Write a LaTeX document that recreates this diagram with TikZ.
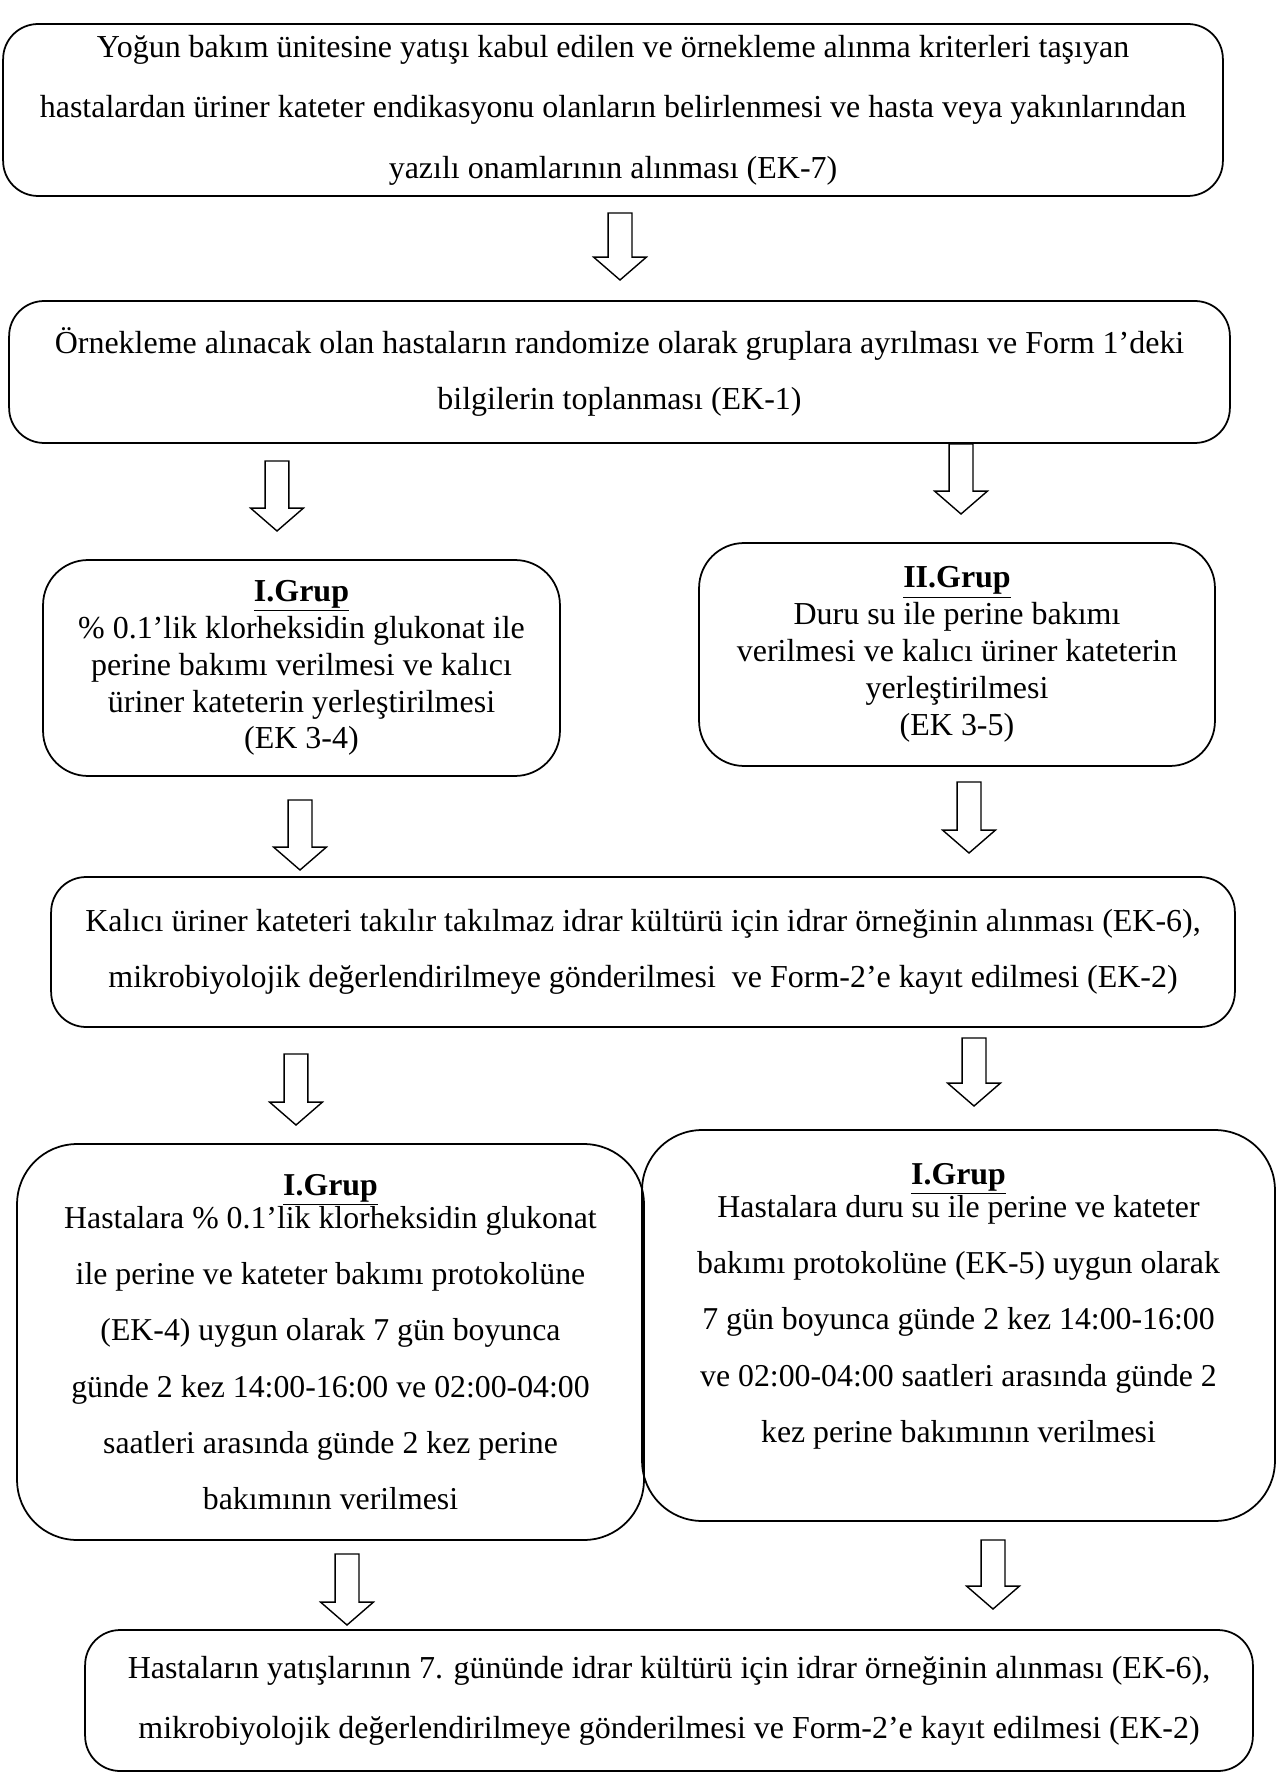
\documentclass[tikz,border=0pt]{standalone}
\usepackage{fontspec}
\setmainfont{Liberation Serif}
\usepackage{tikz}
\usetikzlibrary{
    calc,
    positioning
}
\tikzstyle{box} = [
    draw,
    line width=1pt,
    rounded corners=0.7cm,
    align=center,
    inner sep=0pt
]
\tikzstyle{wide} = [
    box,
    font=\fontsize{18.2pt}{32pt}\selectfont
]
\tikzstyle{grup} = [
    box,
    rounded corners=0.9cm,
    font=\fontsize{18.2pt}{21pt}\selectfont
]
\tikzstyle{tall} = [
    box,
    rounded corners=1.2cm,
    font=\fontsize{18.1pt}{32pt}\selectfont
]
\tikzstyle{blockline} = [
    line width=0.8pt,
    line join=miter
]
\newcommand{\blockarrow}[2]{%
  \draw[blockline] let \p1=(#1), \p2=(#2) in
    (\x1-6.8pt,\y1) -- (\x1+6.8pt,\y1) -- (\x1+6.8pt,\y2+13pt)
    -- (\x1+15pt,\y2+13pt) -- (\x1,\y2) -- (\x1-15pt,\y2+13pt)
    -- (\x1-6.8pt,\y2+13pt) -- cycle;}
\newcommand{\grp}[1]{\textbf{\underline{#1}}}

\begin{document}
\begin{tikzpicture}[x=0.02cm, y=-0.02cm]
\useasboundingbox (0,0) rectangle (1282,1773);

\node[wide, font=\fontsize{18.2pt}{34.5pt}\selectfont, minimum width=24.4cm, minimum height=3.44cm] (b1) at (613,110)
  {Yoğun bakım ünitesine yatışı kabul edilen ve örnekleme alınma kriterleri taşıyan\\
   hastalardan üriner kateter endikasyonu olanların belirlenmesi ve hasta veya yakınlarından\\
   yazılı onamlarının alınması (EK-7)};

\node[wide, minimum width=24.42cm, minimum height=2.84cm] (b2) at (619.5,372)
  {Örnekleme alınacak olan hastaların randomize olarak gruplara ayrılması ve Form 1’deki\\
   bilgilerin toplanması (EK-1)};

\node[grup, minimum width=10.34cm, minimum height=4.32cm] (b3l) at (301.5,668)
  {\grp{I.Grup}\\
   \% 0.1’lik klorheksidin glukonat ile\\
   perine bakımı verilmesi ve kalıcı\\
   üriner kateterin yerleştirilmesi\\
   (EK 3-4)};

\node[grup, minimum width=10.32cm, minimum height=4.46cm] (b3r) at (957,654.5)
  {\grp{II.Grup}\\
   Duru su ile perine bakımı\\
   verilmesi ve kalıcı üriner kateterin\\
   yerleştirilmesi\\
   (EK 3-5)};

\node[wide, minimum width=23.68cm, minimum height=3.0cm] (b4) at (643,952)
  {Kalıcı üriner kateteri takılır takılmaz idrar kültürü için idrar örneğinin alınması (EK-6),\\
   mikrobiyolojik değerlendirilmeye gönderilmesi\ \ ve Form-2’e kayıt edilmesi (EK-2)};

\node[tall, minimum width=12.54cm, minimum height=7.92cm] (b5l) at (330.5,1342)
  {\grp{I.Grup}\\[-13pt]
   Hastalara \% 0.1’lik klorheksidin glukonat\\
   ile perine ve kateter bakımı protokolüne\\
   (EK-4) uygun olarak 7 gün boyunca\\
   günde 2 kez 14:00-16:00 ve 02:00-04:00\\
   saatleri arasında günde 2 kez perine\\
   bakımının verilmesi};

\node[tall, minimum width=12.66cm, minimum height=7.82cm] (b5r) at (958.5,1325.5)
  {\grp{I.Grup}\\[-13pt]
   Hastalara duru su ile perine ve kateter\\
   bakımı protokolüne (EK-5) uygun olarak\\
   7 gün boyunca günde 2 kez 14:00-16:00\\
   ve 02:00-04:00 saatleri arasında günde 2\\
   kez perine bakımının verilmesi\\[-6pt]\mbox{}};

\node[wide, font=\fontsize{18.2pt}{34pt}\selectfont, minimum width=23.36cm, minimum height=2.82cm] (b6) at (669,1700.5)
  {Hastaların yatışlarının 7. gününde idrar kültürü için idrar örneğinin alınması (EK-6),\\
   mikrobiyolojik değerlendirilmeye gönderilmesi ve Form-2’e kayıt edilmesi (EK-2)};

\coordinate (a1s) at (620,213);
\coordinate (a1e) at (620,280);
\coordinate (a2s) at (277,461);
\coordinate (a2e) at (277,531);
\coordinate (a3s) at (961,444);
\coordinate (a3e) at (961,514);
\coordinate (a4s) at (300,800);
\coordinate (a4e) at (300,870);
\coordinate (a5s) at (969,782);
\coordinate (a5e) at (969,853);
\coordinate (a6s) at (296,1054);
\coordinate (a6e) at (296,1125);
\coordinate (a7s) at (974,1038);
\coordinate (a7e) at (974,1106);
\coordinate (a8s) at (347,1554);
\coordinate (a8e) at (347,1625);
\coordinate (a9s) at (993,1540);
\coordinate (a9e) at (993,1609);

\foreach \i in {1,...,9}
  \blockarrow{a\i s}{a\i e};
\end{tikzpicture}
\end{document}
